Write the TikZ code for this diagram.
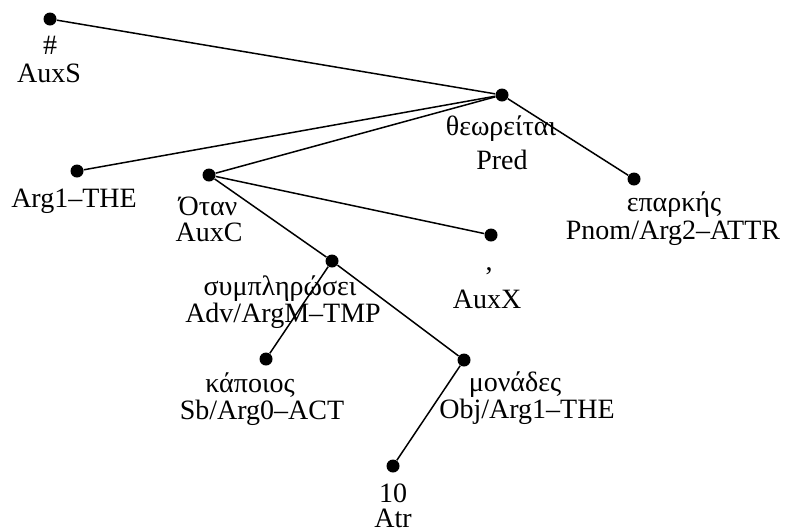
\documentclass[tikz,border=0pt]{standalone}
\usepackage{fontspec}
\setmainfont{Liberation Serif}

\begin{document}
\begin{tikzpicture}[x=0.5pt, y=-0.5pt, every node/.style={font=\fontsize{14}{16}\selectfont}, dot/.style={circle, fill, inner sep=0pt, minimum size=6.5pt}, word/.style={anchor=base, inner sep=0pt}, edge/.style={line width=0.75pt}]
\useasboundingbox (0,0) rectangle (790,531);
% dots
\node[dot] (auxs) at (50,19) {};
\node[dot] (pred) at (502,95) {};
\node[dot] (arg) at (77,171) {};
\node[dot] (auxc) at (209,175) {};
\node[dot] (pnom) at (634,179) {};
\node[dot] (auxx) at (491,235) {};
\node[dot] (adv) at (332,261) {};
\node[dot] (sb) at (266,359) {};
\node[dot] (obj) at (464,360) {};
\node[dot] (atr) at (393,466) {};
% labels
\node[word] (auxs-w) at (50,54) {\#};
\node[word] (auxs-t) at (49,82) {AuxS};
\node[word] (pred-w) at (501,135) {θεωρείται};
\node[word] (pred-t) at (502,169) {Pred};
\node[word] (arg-t) at (74,207) {Arg1–THE};
\node[word] (auxc-w) at (208,215) {Όταν};
\node[word] (auxc-t) at (209,241) {AuxC};
\node[word] (pnom-w) at (674,211) {επαρκής};
\node[word] (pnom-t) at (673,239) {Pnom/Arg2–ATTR};
\node[word] (auxx-w) at (489,270) {,};
\node[word] (auxx-t) at (487,308) {AuxX};
\node[word] (adv-w) at (280,295) {συμπληρώσει};
\node[word] (adv-t) at (283,322) {Adv/ArgM–TMP};
\node[word] (sb-w) at (250,392) {κάποιος};
\node[word] (sb-t) at (262,419) {Sb/Arg0–ACT};
\node[word] (obj-w) at (515,391) {μονάδες};
\node[word] (obj-t) at (527,418) {Obj/Arg1–THE};
\node[word] (atr-w) at (393,502) {10};
\node[word] (atr-t) at (393,527) {Atr};
% edges
\draw[edge] (auxs)--(pred);
\draw[edge] (pred)--(arg);
\draw[edge] (pred)--(auxc);
\draw[edge] (pred)--(pnom);
\draw[edge] (auxc)--(auxx);
\draw[edge] (auxc)--(adv);
\draw[edge] (adv)--(sb);
\draw[edge] (adv)--(obj);
\draw[edge] (obj)--(atr);
\end{tikzpicture}
\end{document}
